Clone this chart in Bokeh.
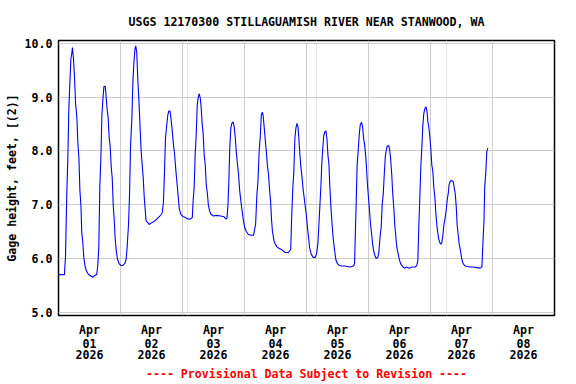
from bokeh.plotting import figure
from bokeh.models import Range1d, FixedTicker, LinearAxis, Title, NumeralTickFormatter, Grid
from bokeh.embed import file_html
from bokeh.resources import INLINE

# ---- data: hours since 2026-04-01 00:00, gage height (ft) ----
h_apr01 = [0.0, 2.3, 2.7, 3.2, 3.6, 4.0, 4.4, 4.8, 5.2, 5.4, 5.8, 6.2, 6.6, 7.1, 7.5, 7.9, 8.3, 8.7, 9.0, 9.4,
           9.8, 10.3, 10.8, 11.6, 12.4, 13.3, 13.9, 14.8, 15.2, 15.6, 16.0, 16.4, 16.8, 17.2, 17.6, 18.1, 18.5,
           18.8, 19.2, 19.6, 20.0, 20.4, 20.8, 21.2, 21.6, 21.9, 22.3, 22.8, 23.4]
g_apr01 = [5.70, 5.70, 6.02, 7.19, 7.83, 8.78, 9.25, 9.71, 9.83, 9.92, 9.71, 9.37, 8.88, 8.63, 8.14, 7.86, 7.25,
           6.97, 6.48, 6.30, 6.02, 5.85, 5.77, 5.70, 5.68, 5.65, 5.68, 5.70, 5.87, 6.20, 7.34, 7.86, 8.66, 8.97,
           9.20, 9.20, 8.97, 8.78, 8.63, 8.26, 8.08, 7.71, 7.49, 6.97, 6.70, 6.39, 6.17, 5.99, 5.91]
h_apr02 = [24.1, 24.9, 25.7, 26.2, 26.6, 27.1, 27.5, 27.9, 28.4, 28.8, 29.2, 29.6, 29.9, 30.3, 30.7, 31.1, 31.6,
           32.0, 32.4, 32.8, 33.2, 33.6, 33.9, 34.5, 35.1, 35.9, 36.8, 37.8, 39.1, 40.1, 40.6, 41.0, 41.4, 41.9,
           42.3, 42.7, 43.2, 43.6, 44.0, 44.5, 44.9, 45.3, 45.7, 46.1, 46.5, 46.8, 47.4]
g_apr02 = [5.87, 5.87, 5.91, 5.99, 6.23, 6.63, 7.19, 8.11, 8.60, 9.28, 9.65, 9.89, 9.95, 9.83, 9.31, 8.97, 8.42,
           7.99, 7.74, 7.49, 7.13, 6.88, 6.70, 6.67, 6.63, 6.66, 6.68, 6.72, 6.78, 6.84, 7.03, 7.56, 8.23, 8.48,
           8.66, 8.74, 8.74, 8.57, 8.39, 8.11, 7.96, 7.71, 7.49, 7.28, 7.06, 6.91, 6.82]
h_apr03 = [48.1, 49.2, 49.7, 51.0, 51.8, 52.1, 52.5, 52.9, 53.3, 53.7, 54.1, 54.5, 54.9, 55.2, 55.6, 56.0, 56.4,
           56.8, 57.2, 57.6, 58.0, 58.5, 59.0, 60.0, 61.3, 62.6, 63.9, 64.7, 65.2, 65.6, 65.9, 66.3, 66.7, 67.1,
           67.6, 68.0, 68.4, 68.8, 69.3, 69.7, 70.1, 70.6, 71.1, 71.6]
g_apr03 = [6.78, 6.76, 6.74, 6.73, 6.76, 7.06, 7.31, 7.92, 8.29, 8.85, 9.00, 9.06, 8.97, 8.82, 8.51, 8.32, 7.92,
           7.74, 7.37, 7.22, 7.00, 6.88, 6.82, 6.79, 6.80, 6.79, 6.78, 6.74, 6.74, 7.00, 7.37, 8.05, 8.42, 8.51,
           8.54, 8.45, 8.26, 7.99, 7.74, 7.56, 7.28, 7.06, 6.88, 6.70]
h_apr04 = [72.1, 72.7, 73.4, 74.5, 75.5, 75.8, 76.3, 76.8, 77.2, 77.7, 78.1, 78.5, 78.9, 79.2, 79.6, 80.1, 80.5,
           80.9, 81.3, 81.7, 82.1, 82.5, 82.8, 83.4, 83.9, 84.5, 85.3, 86.5, 87.7, 89.0, 89.9, 90.3, 90.7, 91.1,
           91.5, 91.9, 92.3, 92.7, 93.0, 93.4, 93.8, 94.3, 94.7, 95.1, 95.5, 95.9]
g_apr04 = [6.57, 6.50, 6.45, 6.43, 6.43, 6.51, 6.63, 7.19, 7.43, 8.02, 8.26, 8.66, 8.72, 8.66, 8.45, 8.17, 7.96,
           7.71, 7.56, 7.28, 7.06, 6.70, 6.51, 6.33, 6.27, 6.22, 6.19, 6.16, 6.11, 6.11, 6.17, 6.82, 7.31, 7.62,
           8.23, 8.42, 8.51, 8.45, 8.26, 7.96, 7.71, 7.49, 7.28, 7.13, 6.97, 6.82]
h_apr05 = [96.4, 96.8, 97.2, 97.8, 98.6, 99.4, 99.9, 100.4, 100.8, 101.2, 101.6, 101.9, 102.3, 102.7, 103.1,
           103.5, 103.9, 104.3, 104.7, 105.0, 105.4, 105.8, 106.3, 106.9, 107.4, 107.9, 108.7, 109.7, 110.7,
           111.8, 112.9, 114.2, 114.6, 114.9, 115.2, 115.6, 116.0, 116.4, 116.8, 117.3, 117.7, 118.1, 118.5,
           118.9, 119.2, 119.6]
g_apr05 = [6.57, 6.39, 6.20, 6.08, 6.02, 6.02, 6.09, 6.27, 6.63, 7.00, 7.37, 7.74, 8.05, 8.29, 8.35, 8.37, 8.23,
           7.92, 7.74, 7.37, 7.00, 6.70, 6.39, 6.14, 5.97, 5.91, 5.87, 5.86, 5.86, 5.85, 5.84, 5.86, 5.90, 6.45,
           6.97, 7.74, 7.99, 8.29, 8.48, 8.53, 8.45, 8.23, 8.11, 7.92, 7.71, 7.37]
h_apr06 = [120.0, 120.4, 120.8, 121.2, 121.6, 122.0, 122.5, 123.0, 123.6, 124.0, 124.5, 124.9, 125.3, 125.7,
           126.1, 126.5, 126.8, 127.2, 127.8, 128.1, 128.5, 129.0, 129.4, 129.8, 130.2, 130.6, 131.0, 131.5,
           132.0, 132.5, 133.2, 133.9, 134.8, 135.7, 136.8, 138.1, 138.7, 139.1, 139.5, 139.9, 140.3, 140.7,
           141.0, 141.4, 141.8, 142.2, 142.6, 143.0, 143.4, 143.8]
g_apr06 = [7.13, 6.88, 6.63, 6.45, 6.27, 6.14, 6.05, 6.00, 6.02, 6.11, 6.42, 6.57, 7.00, 7.19, 7.56, 7.89, 7.99,
           8.08, 8.10, 8.05, 7.89, 7.56, 7.19, 6.94, 6.60, 6.39, 6.20, 6.08, 5.97, 5.90, 5.85, 5.82, 5.84, 5.82,
           5.84, 5.84, 5.87, 5.96, 6.63, 7.19, 7.74, 8.11, 8.45, 8.69, 8.78, 8.82, 8.75, 8.54, 8.42, 8.23]
h_apr07 = [144.1, 144.5, 144.9, 145.3, 145.7, 146.1, 146.5, 146.9, 147.2, 147.8, 148.3, 148.7, 149.2, 149.7,
           150.1, 150.5, 150.9, 151.2, 151.6, 152.1, 152.8, 153.2, 153.6, 154.0, 154.3, 154.7, 155.1, 155.5,
           156.0, 156.4, 157.0, 157.4, 158.2, 159.4, 160.7, 162.0, 163.2, 163.9, 164.3, 164.7, 165.0, 165.4,
           165.8, 166.2]
g_apr07 = [8.05, 7.74, 7.62, 7.31, 7.13, 6.82, 6.60, 6.45, 6.36, 6.27, 6.28, 6.39, 6.63, 6.76, 6.91, 7.10, 7.22,
           7.37, 7.43, 7.45, 7.43, 7.31, 7.19, 6.94, 6.63, 6.45, 6.27, 6.17, 6.02, 5.93, 5.88, 5.86, 5.85, 5.84,
           5.84, 5.83, 5.82, 5.84, 6.30, 6.70, 7.34, 7.59, 7.99, 8.05]

hours = h_apr01 + h_apr02 + h_apr03 + h_apr04 + h_apr05 + h_apr06 + h_apr07
gage = g_apr01 + g_apr02 + g_apr03 + g_apr04 + g_apr05 + g_apr06 + g_apr07

y_ticks = [5, 6, 7, 8, 9, 10]
day_grid = [24, 48, 72, 96, 120, 144, 168]
label_pos = [12, 36, 60, 84, 108, 132, 156, 180]
mon_labels = ["Apr"] * 8
day_labels = ["01", "02", "03", "04", "05", "06", "07", "08"]
year_labels = ["2026"] * 8

title_text = "USGS 12170300 STILLAGUAMISH RIVER NEAR STANWOOD, WA"
footer_text = "---- Provisional Data Subject to Revision ----"
ylabel = "Gage height, feet, [(2)]"

FONT = "DejaVu Sans Mono"
FS = "11.6px"

p = figure(width=576, height=384, output_backend="svg", toolbar_location=None,
           x_range=Range1d(0, 192), y_range=Range1d(4.94, 10.05),
           x_axis_location=None,
           min_border_left=58, min_border_right=22, min_border_top=40, min_border_bottom=67)
p.background_fill_color = "white"
p.border_fill_color = "white"
p.outline_line_color = "black"
p.outline_line_width = 1.5

p.title.text = title_text
p.title.align = "center"
p.title.text_font = FONT
p.title.text_font_size = FS
p.title.text_font_style = "bold"
p.title.text_color = "black"
p.title.standoff = 23

yax = p.yaxis[0]
yax.ticker = FixedTicker(ticks=y_ticks)
yax.formatter = NumeralTickFormatter(format="0.0")
yax.axis_line_color = None
yax.major_tick_line_color = None
yax.minor_tick_line_color = None
yax.major_tick_out = 0
yax.major_tick_in = 0
yax.minor_tick_out = 0
yax.major_label_standoff = 6
yax.major_label_text_font = FONT
yax.major_label_text_font_size = FS
yax.major_label_text_font_style = "bold"
yax.major_label_text_color = "black"
yax.axis_label = ylabel
yax.axis_label_text_font = FONT
yax.axis_label_text_font_size = FS
yax.axis_label_text_font_style = "bold"
yax.axis_label_text_color = "black"
yax.axis_label_standoff = 3

p.ygrid.grid_line_color = "#cccccc"
p.add_layout(Grid(dimension=0, ticker=FixedTicker(ticks=day_grid), grid_line_color="#cccccc"))

for labels, standoff in [(mon_labels, 7), (day_labels, -1), (year_labels, -1)]:
    ax = LinearAxis(ticker=FixedTicker(ticks=label_pos),
                    major_label_overrides={t: l for t, l in zip(label_pos, labels)})
    ax.axis_line_color = None
    ax.major_tick_line_color = None
    ax.minor_tick_line_color = None
    ax.major_tick_out = 0
    ax.major_tick_in = 0
    ax.minor_tick_out = 0
    ax.major_label_standoff = standoff
    ax.major_label_text_font = FONT
    ax.major_label_text_font_size = FS
    ax.major_label_text_font_style = "bold"
    ax.major_label_text_color = "black"
    p.add_layout(ax, "below")

p.add_layout(Title(text=footer_text, align="center", text_color="red", text_font=FONT,
                   text_font_size=FS, text_font_style="bold", standoff=7), "below")

p.line(hours, gage, line_color="#0000ff", line_width=1.1)

open("out.html", "w").write(file_html(p, INLINE))
